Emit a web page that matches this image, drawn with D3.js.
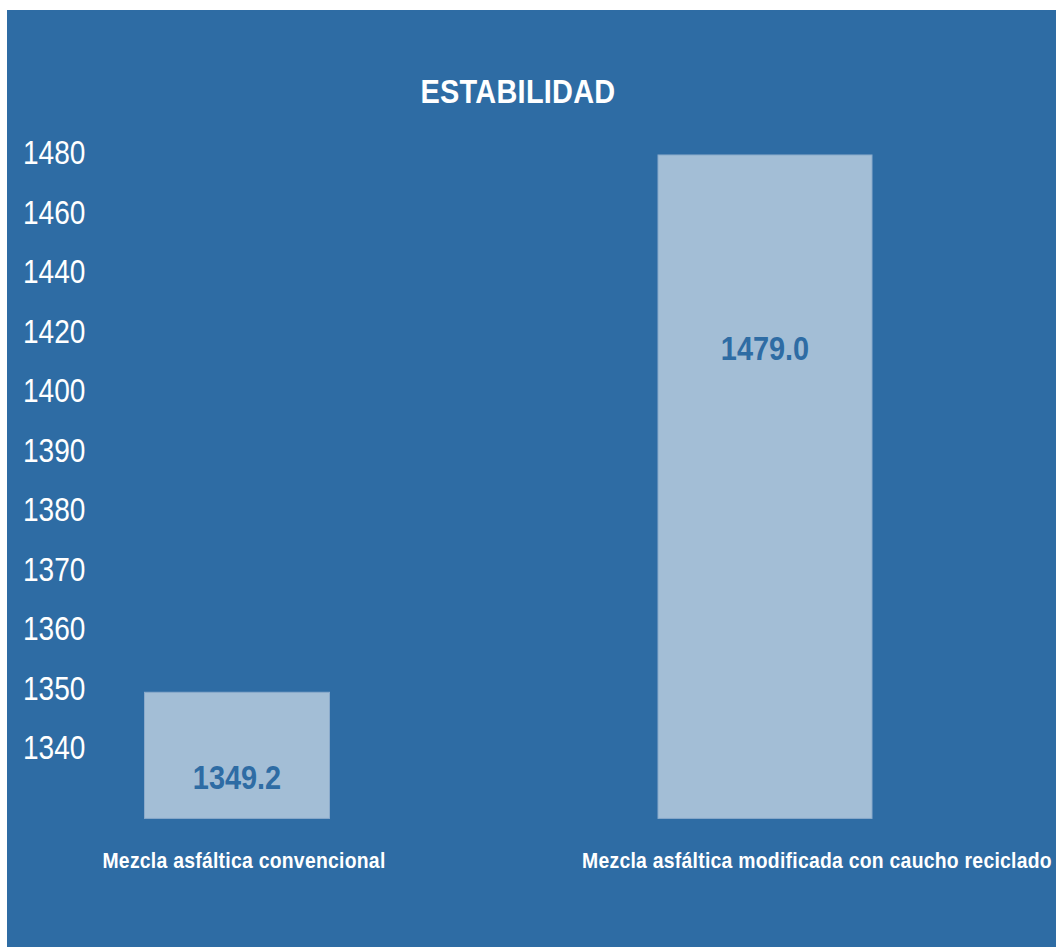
<!DOCTYPE html>
<html><head><meta charset="utf-8">
<script src="https://cdn.jsdelivr.net/npm/d3@7"></script>
<style>
html,body{margin:0;padding:0;background:#fff;}
svg{display:block;}
text{font-family:"Liberation Sans",Arial,sans-serif;}
</style></head>
<body>
<svg id="chart" width="1056" height="947"></svg>
<script>
// ---- data ----
const categories = ["Mezcla asfáltica convencional", "Mezcla asfáltica modificada con caucho reciclado"];
const values = [1349.2, 1479.0];
const tickValues = [1340, 1350, 1360, 1370, 1380, 1390, 1400, 1420, 1440, 1460, 1480];
const baseValue = 1328;
const title = "ESTABILIDAD";

// ---- layout / style ----
const W = 1056, H = 947;
const bg = "#2E6CA4", barFill = "#A3BED6", barStroke = "#8AAACB";
const tickTop = 152, tickStep = 59.5;
const barWidths = [185, 214];
const labelFrac = [0.67, 0.29];
const narrow = 0.85; // horizontal condensing of the font

const svg = d3.select("#chart");
svg.append("rect").attr("x", 7).attr("y", 10).attr("width", W - 7).attr("height", H - 10).attr("fill", bg);

// piecewise-linear value scale (ticks evenly spaced as in the original)
const n = tickValues.length;
const y = d3.scaleLinear()
  .domain(tickValues)
  .range(tickValues.map((d, i) => tickTop + (n - 1 - i) * tickStep));

const x = d3.scalePoint().domain(categories).range([237, 765]);
const xLab = d3.scalePoint().domain(categories).range([244, 817]);

// title
svg.append("text").attr("transform", `translate(518,103) scale(${narrow},1)`).attr("text-anchor", "middle")
  .attr("fill", "#fff").attr("font-weight", "bold").attr("font-size", 34)
  .attr("letter-spacing", 0.3).text(title);

// y axis
const yAxis = d3.axisLeft(y).tickValues(tickValues).tickSize(0).tickPadding(0).tickFormat(d3.format("d"));
const gy = svg.append("g").attr("transform", "translate(23,0)").call(yAxis);
gy.select(".domain").remove();
gy.selectAll("text").attr("text-anchor", "start").attr("x", 0).attr("dy", "0.36em")
  .attr("transform", `scale(${narrow},1)`)
  .attr("fill", "#fff").attr("font-size", 33)
  .style("font-family", '"Liberation Sans",Arial,sans-serif');

// bars
const data = categories.map((c, i) => ({c, v: values[i], f: labelFrac[i], w: barWidths[i]}));
svg.selectAll("rect.bar").data(data).join("rect").attr("class", "bar")
  .attr("x", d => x(d.c) - d.w / 2).attr("width", d => d.w)
  .attr("y", d => y(d.v)).attr("height", d => y(baseValue) - y(d.v))
  .attr("fill", barFill).attr("stroke", barStroke).attr("stroke-width", 1);

svg.selectAll("text.val").data(data).join("text").attr("class", "val")
  .attr("transform", d => `translate(${x(d.c)},${y(d.v) + d.f * (y(baseValue) - y(d.v))}) scale(${narrow},1)`)
  .attr("dy", "0.36em").attr("text-anchor", "middle")
  .attr("fill", bg).attr("font-weight", "bold").attr("font-size", 34)
  .text(d => d.v.toFixed(1));

// category labels
svg.selectAll("text.cat").data(categories).join("text").attr("class", "cat")
  .attr("transform", d => `translate(${xLab(d)},868) scale(0.88,1)`).attr("text-anchor", "middle")
  .attr("fill", "#fff").attr("font-weight", "bold").attr("font-size", 22)
  .attr("letter-spacing", 0.3).text(d => d);
</script>
</body></html>
